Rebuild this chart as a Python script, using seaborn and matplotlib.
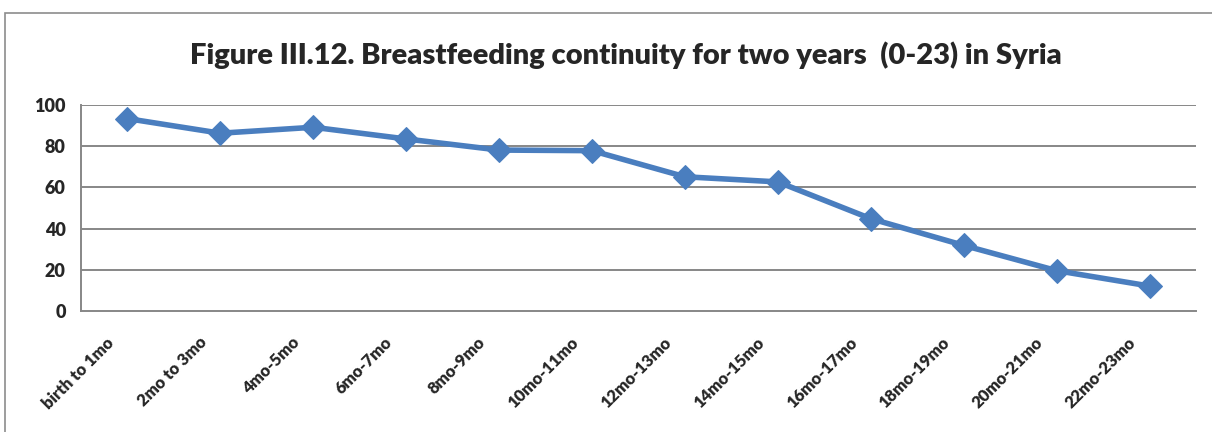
import matplotlib
matplotlib.use("Agg")
import matplotlib.pyplot as plt
import matplotlib.transforms as mtransforms
from matplotlib.patches import Rectangle
import seaborn as sns
import pandas as pd

categories = ["birth to 1mo", "2mo to 3mo", "4mo-5mo", "6mo-7mo", "8mo-9mo",
              "10mo-11mo", "12mo-13mo", "14mo-15mo", "16mo-17mo", "18mo-19mo",
              "20mo-21mo", "22mo-23mo"]
values = [93.5, 86.4, 89.3, 83.6, 78.2, 77.9, 65.2, 62.7, 44.8, 31.8, 19.5, 12.0]
y_ticks = [0, 20, 40, 60, 80, 100]
title = "Figure III.12. Breastfeeding continuity for two years  (0-23) in Syria"

sns.set_theme(style="white")
plt.rcParams["font.family"] = ["Lato", "DejaVu Sans"]

df = pd.DataFrame({"pos": range(len(categories)), "value": values})

fig = plt.figure(figsize=(12.12, 4.32), dpi=100)
ax = fig.add_axes([0.0668, 0.2808, 0.92, 0.4755])

grid_c = "#878787"
line_c = "#4A7EBF"
weight = "heavy"

sns.lineplot(data=df, x="pos", y="value", ax=ax, color=line_c, linewidth=4,
             marker="D", markersize=12.5, markeredgecolor=line_c, zorder=3)

ax.set_xlim(-0.5, len(categories) - 0.5)
ax.set_ylim(0, 100)
ax.set_yticks(y_ticks)
ax.set_yticklabels([str(v) for v in y_ticks], fontsize=13, fontweight=weight)
for v in y_ticks[1:]:
    ax.axhline(v, color=grid_c, linewidth=1.4, zorder=1)

# category boundary ticks along the bottom axis
ax.set_xticks([i - 0.5 for i in range(len(categories) + 1)])
ax.set_xticklabels([])
ax.set_xticks(range(len(categories)), minor=True)
ax.set_xticklabels(categories, minor=True, rotation=45, ha="right",
                   rotation_mode="anchor", fontsize=12, fontweight=weight)
ax.tick_params(axis="x", which="minor", length=0, pad=17)
ax.tick_params(axis="x", which="major", length=5, width=1.2, color=grid_c, direction="out")
ax.tick_params(axis="y", length=6, width=1.2, color=grid_c, direction="out", pad=5)
offset = mtransforms.ScaledTranslation(-0.22, 0, fig.dpi_scale_trans)
for lbl in ax.get_xticklabels(minor=True):
    lbl.set_transform(lbl.get_transform() + offset)

for side in ["top", "right"]:
    ax.spines[side].set_visible(False)
for side in ["left", "bottom"]:
    ax.spines[side].set_color(grid_c)
    ax.spines[side].set_linewidth(1.4)

ax.set_xlabel("")
ax.set_ylabel("")

fig.text(0.5165, 0.873, title, ha="center", va="center", fontsize=21, fontweight=weight)

# chart-area frame
fig.patches.append(Rectangle((5 / 1212, -0.1), 1.2, 1 - 13 / 432 + 0.1,
                             transform=fig.transFigure, fill=False,
                             edgecolor="#8c8c8c", linewidth=1.2))

fig.savefig("out.png", dpi=100, facecolor="white")
